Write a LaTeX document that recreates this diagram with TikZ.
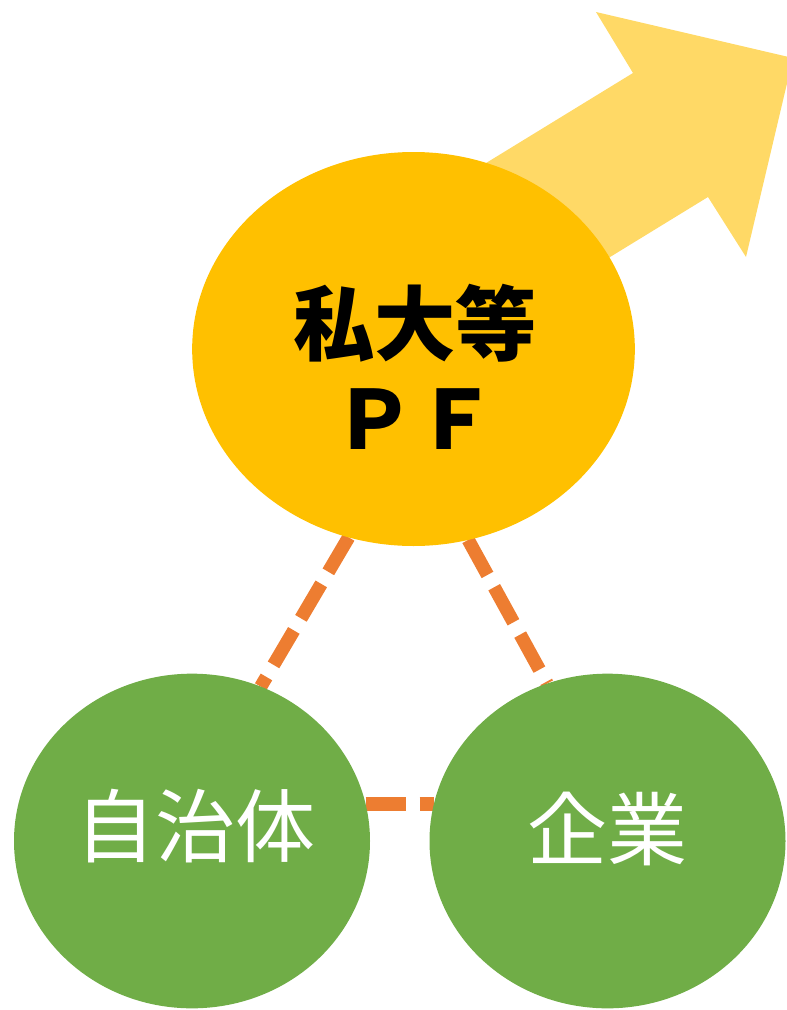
\documentclass[tikz,border=0pt]{standalone}
\usepackage{fontspec}
\newfontfamily\cjk{Noto Sans CJK JP}
\usetikzlibrary{shapes.geometric,backgrounds}
\definecolor{pfYellow}{HTML}{FFC000}
\definecolor{arrowYellow}{HTML}{FFD966}
\definecolor{ballGreen}{HTML}{70AD47}
\definecolor{linkOrange}{HTML}{ED7D31}

\begin{document}
\begin{tikzpicture}[x=0.75pt, y=-0.75pt,
    pfStyle/.style={ellipse, fill=pfYellow, minimum width=332pt, minimum height=295.5pt, inner sep=0pt, outer sep=0pt},
    ballStyle/.style={ellipse, fill=ballGreen, minimum width=267pt, minimum height=251pt, inner sep=0pt, outer sep=0pt},
    linkStyle/.style={draw=linkOrange, line width=10pt, dash pattern=on 30pt off 10.5pt},
    ballText/.style={font=\cjk\fontsize{60}{60}\selectfont, text=white, inner sep=0pt},
    pfText/.style={font=\cjk\bfseries\fontsize{61}{71}\selectfont, align=center, inner sep=0pt}]
                    \useasboundingbox (0,0) rectangle (787,1010);
                    \node[pfStyle](pf) at (413.5, 349) {};
                    \node[ballStyle](jichitai) at (192, 841) {};
                    \node[ballStyle](kigyo) at (607.5, 841) {};
                    \node[pfText](pfLabel) at (415, 367) {私大等\\ＰＦ};
                    \node[ballText](jichitaiLabel) at (195, 826) {自治体};
                    \node[ballText](kigyoLabel) at (607, 829) {企業};

                    \begin{pgfonlayer}{background}
                    \clip (0,0) rectangle (787,1010);
                    \fill[arrowYellow] (420,203.5) -- (633,73) -- (596,12) -- (793,58) -- (746,257) -- (708,197) -- (495,327.5) -- cycle;
                    \draw[linkStyle] (pf.251) -- (jichitai.66);
                    \draw[linkStyle] (pf.286) -- (kigyo.111);
                    \draw[linkStyle] (jichitai.12) -- (kigyo.168);
                    \end{pgfonlayer}
                \end{tikzpicture}
\end{document}
